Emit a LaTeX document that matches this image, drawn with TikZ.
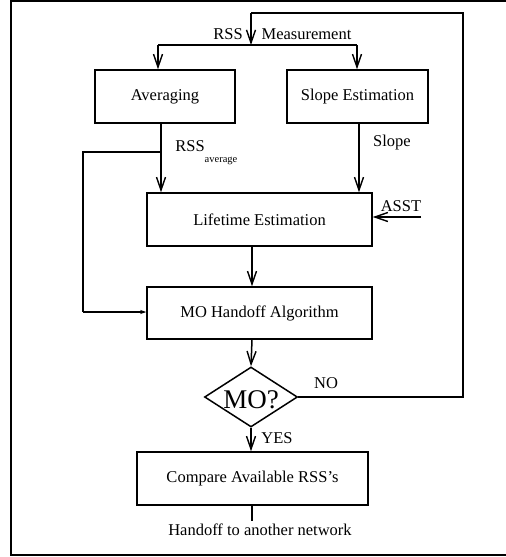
\documentclass[tikz,border=0pt]{standalone}
\usepackage{fontspec}
\setmainfont{Liberation Serif}
\usetikzlibrary{arrows.meta,shapes.geometric}
\begin{document}
\begin{tikzpicture}[x=1pt,y=-1pt,
  every node/.style={font=\fontsize{16.5}{19}\selectfont},
  box/.style={draw,line width=1.5pt,rectangle,inner sep=0pt},
  ln/.style={line width=1.5pt},
  arr/.style={line width=1.5pt,-{Straight Barb[length=13pt,width=9pt,line width=1.4pt]}},
  sarr/.style={line width=1.5pt,-{Stealth[length=6pt,width=4pt]}},
  lbl/.style={inner sep=0pt}
]
\useasboundingbox (0,0) rectangle (506,557);
% frame
\draw[line width=2pt] (506,1) -- (11,1) -- (11,555) -- (506,555);

% nodes
\node[box,minimum width=140pt,minimum height=53pt] (avg) at (165,96.5) {Averaging};
\node[box,minimum width=141pt,minimum height=53pt] (slope) at (357.5,96.5) {Slope Estimation};
\node[box,minimum width=225pt,minimum height=53pt] (life) at (259.5,219.5) {Lifetime Estimation};
\node[box,minimum width=225pt,minimum height=52pt] (mo) at (259.5,313) {MO Handoff Algorithm};
\node[diamond,draw,line width=1.5pt,minimum width=93pt,minimum height=60pt,inner sep=0pt] (dia) at (251,397) {};
\node[lbl,font=\fontsize{27}{30}\selectfont] (diat) at (251,400) {MO?};
\node[box,minimum width=231pt,minimum height=53pt] (cmp) at (252.5,478.5) {Compare Available RSS’s};

% labels
\node[lbl] (rss1) at (228,34) {RSS};
\node[lbl] (meas) at (306.5,34) {Measurement};
\node[lbl] (rss2) at (190,146) {RSS};
\node[lbl,font=\fontsize{10.5}{12}\selectfont] (avgl) at (221,161) {average};
\node[lbl] (slopel) at (392,143) {Slope};
\node[lbl] (asst) at (401,206) {ASST};
\node[lbl] (no) at (326,383) {NO};
\node[lbl] (yes) at (277,438) {YES};
\node[lbl] (hand) at (260,530) {Handoff to another network};

% coordinates
\coordinate (topL) at (251,13);
\coordinate (topR) at (463,13);
\coordinate (noR) at (463,397);
\coordinate (split) at (251,45);
\coordinate (splitL) at (158,45);
\coordinate (splitR) at (357,45);
\coordinate (avgX) at (161,0);
\coordinate (slopeX) at (359,0);
\coordinate (midX) at (252,0);
\coordinate (fbA) at (161,152);
\coordinate (fbB) at (83,152);
\coordinate (fbC) at (83,312);
\coordinate (asstS) at (421,217);
\coordinate (handT) at (252,521);

% connectors
\draw[ln] (dia.east) -- (noR) -- (topR) -- (topL);
\draw[arr] (topL) -- (split);
\draw[ln] (splitL) -- (splitR);
\draw[arr] (splitL) -- (splitL |- avg.north);
\draw[arr] (splitR) -- (splitR |- slope.north);
\draw[arr] (avgX |- avg.south) -- (avgX |- life.north);
\draw[arr] (slopeX |- slope.south) -- (slopeX |- life.north);
\draw[ln] (fbA) -- (fbB) -- (fbC);
\draw[sarr] (fbC) -- (fbC -| mo.west);
\draw[arr] (asstS) -- (asstS -| life.east);
\draw[arr] (midX |- life.south) -- (midX |- mo.north);
\draw[arr] (midX |- mo.south) -- (dia.north);
\draw[arr] (dia.south) -- (dia.south |- cmp.north);
\draw[ln] (midX |- cmp.south) -- (handT);
\end{tikzpicture}
\end{document}
